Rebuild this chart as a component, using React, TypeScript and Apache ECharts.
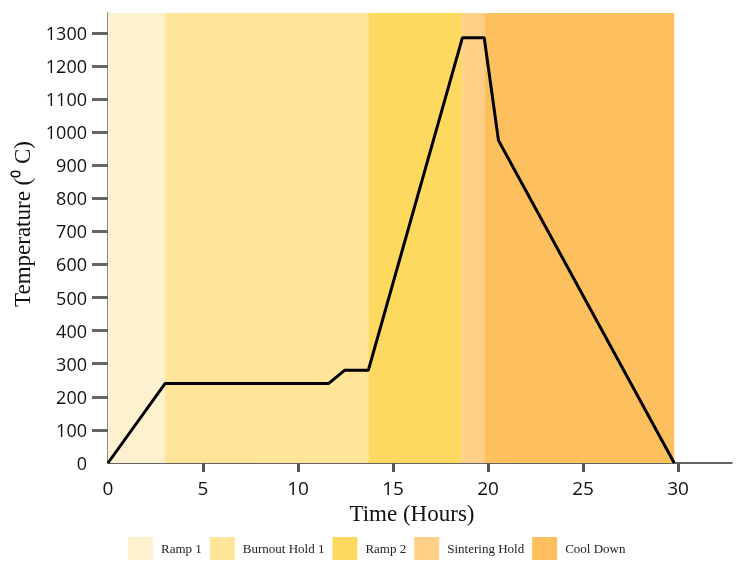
import React, { useEffect, useRef } from "react";
import * as echarts from "echarts";

const timeHours = [0, 3.0, 11.6, 12.45, 13.7, 18.65, 19.8, 20.55, 29.8];
const temperatureC = [0, 240, 240, 280, 280, 1285, 1285, 975, 0];

const stageNames = ["Ramp 1", "Burnout Hold 1", "Ramp 2", "Sintering Hold", "Cool Down"];
const stageStart = [0, 3.0, 13.7, 18.65, 19.8];
const stageEnd = [3.0, 13.7, 18.65, 19.8, 29.8];
const stageColors = ["#FEF1D0", "#FEE598", "#FED95F", "#FECF87", "#FEC05E"];

const xTickValues = [0, 5, 10, 15, 20, 25, 30];
const yTickValues = [0, 100, 200, 300, 400, 500, 600, 700, 800, 900, 1000, 1100, 1200, 1300];

export default function App() {
  const ref = useRef<HTMLDivElement>(null);
  useEffect(() => {
    if (!ref.current) return;
    const chart = echarts.init(ref.current, undefined, { renderer: "svg" });
    const bandSeries = stageNames.map((name, i) => ({
      name,
      type: "line",
      data: [],
      z: 1,
      color: stageColors[i],
      itemStyle: { color: stageColors[i] },
      markArea: {
        silent: true,
        itemStyle: { color: stageColors[i], opacity: 1 },
        data: [[{ xAxis: stageStart[i] }, { xAxis: stageEnd[i] }]],
      },
    }));
    chart.setOption({
      animation: false,
      grid: { left: 108, right: 6, top: 13, bottom: 100, containLabel: false },
      legend: {
        data: stageNames.map((n) => ({ name: n, icon: "rect" })),
        left: 123,
        top: 532,
        itemWidth: 25,
        itemHeight: 23,
        itemGap: 8,
        textStyle: {
          fontFamily: "Liberation Serif",
          fontSize: 13,
          color: "#222",
          padding: [0, 0, 0, 3],
        },
      },
      xAxis: {
        type: "value",
        min: 0,
        max: 32.84,
        name: "Time (Hours)",
        nameLocation: "middle",
        nameGap: 37,
        nameTextStyle: { fontFamily: "Liberation Serif", fontSize: 23, color: "#111", padding: [0, 16, 0, 0] },
        splitLine: { show: false },
        axisLine: { show: true, lineStyle: { color: "#333", width: 1.5 } },
        axisTick: {
          show: true,
          length: 9,
          customValues: xTickValues.slice(1),
          lineStyle: { color: "#555", width: 3 },
        },
        axisLabel: {
          customValues: xTickValues,
          margin: 15,
          fontFamily: "Open Sans",
          fontSize: 19,
          color: "#111",
          formatter: (v: number) => String(v),
        },
      },
      yAxis: {
        type: "value",
        min: 0,
        max: 1360,
        splitLine: { show: false },
        axisLine: { show: true, lineStyle: { color: "#666", width: 1.5 } },
        axisTick: {
          show: true,
          length: 16,
          customValues: yTickValues.slice(1),
          lineStyle: { color: "#666", width: 3 },
        },
        axisLabel: {
          customValues: yTickValues,
          margin: 21,
          fontFamily: "Open Sans",
          fontSize: 18,
          color: "#111",
          formatter: (v: number) => String(v),
        },
      },
      graphic: [
        {
          type: "text",
          x: 22,
          y: 224,
          rotation: Math.PI / 2,
          style: {
            text: "Temperature (\u2070 C)",
            font: "23px 'Liberation Serif'",
            fill: "#111",
            align: "center",
            verticalAlign: "middle",
          },
        },
      ],
      series: [
        ...bandSeries,
        {
          name: "Temperature",
          type: "line",
          z: 5,
          symbol: "none",
          lineStyle: { color: "#000", width: 3 },
          itemStyle: { color: "#000" },
          data: timeHours.map((t, i) => [t, temperatureC[i]]),
        },
      ],
    });
    return () => chart.dispose();
  }, []);
  return (
    <div
      ref={ref}
      style={{ position: "fixed", left: 0, top: 0, width: 738, height: 563 }}
    />
  );
}
